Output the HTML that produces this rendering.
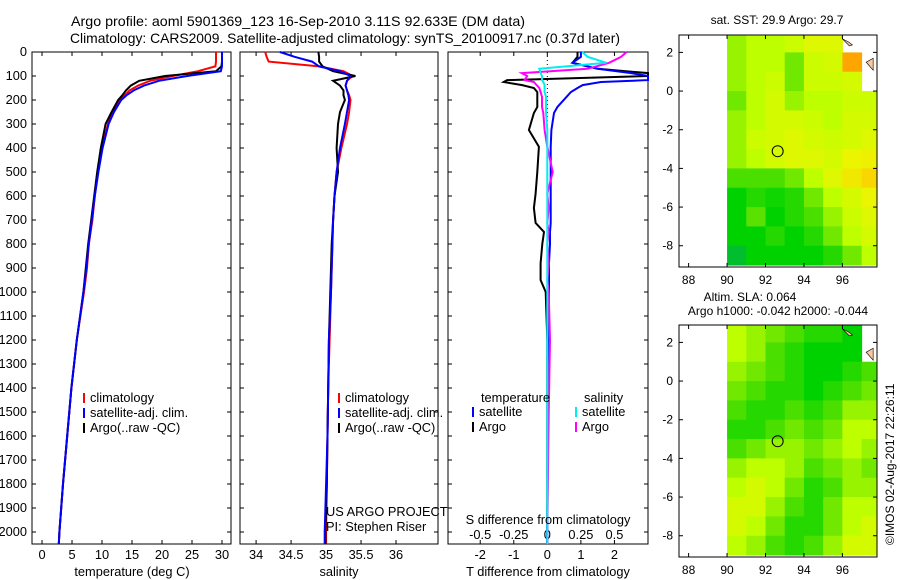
<!DOCTYPE html>
<html><head><meta charset="utf-8"><style>
html,body{margin:0;padding:0;background:#fff}
svg{display:block;font-family:"Liberation Sans",sans-serif;font-size:12.8px}
.m{font-size:12px}
</style></head><body>
<svg id="c" width="900" height="580" viewBox="0 0 900 580">
<text x="71" y="26" textLength="454" lengthAdjust="spacingAndGlyphs" style="font-size:14px">Argo profile: aoml 5901369_123 16-Sep-2010 3.11S 92.633E (DM data)</text>
<text x="70" y="43" textLength="550" lengthAdjust="spacingAndGlyphs" style="font-size:14px">Climatology: CARS2009. Satellite-adjusted climatology: synTS_20100917.nc (0.37d later)</text>
<text class="m" x="777" y="24" text-anchor="middle">sat. SST: 29.9 Argo: 29.7</text>
<text class="m" x="750" y="301" text-anchor="middle">Altim. SLA: 0.064</text>
<text class="m" x="778" y="315" text-anchor="middle">Argo h1000: -0.042 h2000: -0.044</text>
<text class="m" transform="translate(894,545) rotate(-90)">©IMOS 02-Aug-2017 22:26:11</text>
<g id="g"></g>
</svg>
<script>
// ---- data ----
const depths=[0,20,40,60,80,100,120,140,160,180,200,250,300,400,500,600,700,800,900,1000,1200,1400,1600,1800,2000,2050];
const tempClim=[29.0,29.0,29.0,28.9,26.0,21.8,18.0,16.0,14.6,13.8,13.0,11.8,11.0,10.0,9.3,8.8,8.4,7.8,7.5,7.0,5.8,4.9,4.2,3.5,2.9,2.8];
const tempSat=[30.0,30.0,30.0,30.0,29.8,24.2,19.5,17.0,15.3,14.1,13.2,12.0,11.1,10.1,9.4,8.8,8.3,7.8,7.4,6.9,5.8,4.9,4.2,3.5,2.9,2.8];
const tempArgo=[30.0,30.0,30.0,29.9,29.0,20.5,16.2,14.8,14.0,13.4,12.7,11.6,10.6,9.8,9.2,8.7,8.2,7.7,7.3,6.9,5.8,4.9,4.2,3.5,2.9,2.8];
const salClim=[34.13,34.15,34.18,34.9,35.25,35.38,35.3,35.28,35.3,35.33,35.35,35.33,35.3,35.22,35.15,35.12,35.1,35.09,35.08,35.07,35.05,35.03,35.02,35.01,35.0,35.0];
const salSat=[34.34,34.55,34.8,34.9,35.2,35.35,35.3,35.28,35.3,35.32,35.33,35.3,35.27,35.2,35.15,35.12,35.1,35.09,35.08,35.07,35.04,35.03,35.02,35.0,34.98,34.98];
const salArgo=[34.89,34.9,34.9,34.95,35.1,35.42,35.1,35.2,35.25,35.25,35.27,35.2,35.17,35.15,35.17,35.12,35.1,35.08,35.07,35.06,35.04,35.03,35.02,35.01,34.99,34.99];
const diffDepths=[0,20,45,70,88,100,117,125,138,150,167,187,229,254,325,395,500,590,650,712,750,800,880,950,1000,1200,1500,2000,2050];
const tDiffSat=[1.0,1.0,0.75,1.5,2.5,3.0,3.0,1.6,1.05,0.9,0.7,0.57,0.3,0.2,0.12,0.1,0.1,0.1,0.1,0.1,0.08,0.08,0.05,0.05,0.05,0.03,0.02,0.0,0.0];
const tDiffArgo=[0.9,0.9,0.75,1.5,3.0,3.0,-1.2,-1.3,-0.75,-0.4,-0.3,-0.3,-0.3,-0.4,-0.55,-0.25,-0.3,-0.35,-0.4,-0.35,-0.1,-0.15,-0.2,-0.2,-0.05,0.0,0.0,0.0,0.0];
const sDiffSat=[0.26,0.3,0.44,-0.06,-0.05,-0.04,-0.04,-0.03,-0.02,-0.02,-0.02,-0.01,-0.01,-0.01,0.0,0.0,0.0,0.0,0.0,0.0,0.0,0.0,0.0,0.0,0.0,0.0,0.0,0.0,0.0];
const sDiffArgo=[0.59,0.55,0.46,0.3,-0.19,-0.15,-0.17,-0.1,-0.08,-0.06,-0.05,-0.04,-0.04,-0.03,-0.02,0.0,0.04,0.0,0.01,0.0,0.01,0.0,0.01,0.0,0.01,0.02,0.01,0.0,0.0];
const depthTicks=[0,100,200,300,400,500,600,700,800,900,1000,1100,1200,1300,1400,1500,1600,1700,1800,1900,2000];
const tempTicks=[0,5,10,15,20,25,30];
const salTicks=[34,34.5,35,35.5,36];
const salTickLabels=["34","34.5","35","35.5","36"];
const tdTicks=[-2,-1,0,1,2];
const sdTicks=[-0.5,-0.25,0,0.25,0.5];
const sdTickLabels=["-0.5","-0.25","0","0.25","0.5"];
const lonTicks=[88,90,92,94,96];
const latTicks=[2,0,-2,-4,-6,-8];
const argoLon=92.633, argoLat=-3.11;
const sstGrid=[
[0.5,0.55,0.55,0.58,0.62,0.62,null,null],
[0.5,0.55,0.55,0.45,0.58,0.6,0.8,null],
[0.5,0.55,0.58,0.45,0.58,0.58,0.6,null],
[0.45,0.55,0.6,0.5,0.55,0.55,0.58,0.58],
[0.5,0.55,0.6,0.6,0.58,0.55,0.6,0.6],
[0.5,0.58,0.6,0.62,0.6,0.58,0.6,0.62],
[0.5,0.55,0.6,0.62,0.62,0.6,0.65,0.66],
[0.4,0.4,0.4,0.45,0.55,0.62,0.68,0.72],
[0.3,0.35,0.32,0.35,0.45,0.55,0.6,0.65],
[0.3,0.42,0.3,0.35,0.4,0.5,0.58,0.62],
[0.3,0.3,0.35,0.3,0.35,0.45,0.55,0.6],
[0.25,0.3,0.3,0.3,0.3,0.35,0.45,0.55]];
const slaGrid=[
[0.55,0.5,0.45,0.4,0.35,0.35,0.3,null],
[0.55,0.5,0.4,0.35,0.3,0.3,0.3,null],
[0.5,0.45,0.4,0.35,0.3,0.3,0.35,0.4],
[0.45,0.4,0.35,0.35,0.3,0.35,0.4,0.45],
[0.4,0.35,0.35,0.4,0.35,0.4,0.5,0.5],
[0.35,0.35,0.4,0.45,0.4,0.45,0.55,0.55],
[0.4,0.45,0.5,0.5,0.45,0.5,0.55,0.5],
[0.5,0.55,0.55,0.5,0.4,0.45,0.5,0.45],
[0.55,0.6,0.55,0.45,0.35,0.4,0.5,0.5],
[0.6,0.6,0.5,0.4,0.35,0.45,0.55,0.55],
[0.6,0.55,0.45,0.35,0.35,0.45,0.55,0.6],
[0.55,0.5,0.4,0.35,0.4,0.5,0.6,0.6]];

// ---- drawing ----
const NS="http://www.w3.org/2000/svg";
const G=document.getElementById('g');
function mk(tag,attrs,parent,txt){const e=document.createElementNS(NS,tag);for(const k in attrs)e.setAttribute(k,attrs[k]);if(txt!==undefined)e.textContent=txt;(parent||G).appendChild(e);return e;}
const Y0=52, PXM=0.24;
const yD=d=>Y0+d*PXM;
const P1={x0:32,x1:231,v0:-1.67,v1:31.5};
const P2={x0:240,x1:438,v0:33.77,v1:36.6};
const P3={x0:448,x1:648,v0:-2.96,v1:3.0};
const sx=(p,v)=>p.x0+(v-p.v0)/(p.v1-p.v0)*(p.x1-p.x0);
const YB=544;

function frame(p,name){
  const r=mk('rect',{x:p.x0,y:Y0,width:p.x1-p.x0,height:YB-Y0,fill:'none',stroke:'#000','stroke-width':1});
  
  
}
function line(p,xs,ys,color,name,w){
  let d='';
  for(let i=0;i<xs.length;i++){let x=Math.max(p.x0,Math.min(p.x1,sx(p,xs[i])));d+=(i?'L':'M')+x.toFixed(1)+','+yD(ys[i]).toFixed(1);}
  const e=mk('path',{d:d,fill:'none',stroke:color,'stroke-width':w||2});
  
  
}
function xticks(p,vals,labels,name){
  vals.forEach((v,i)=>{const x=sx(p,v);
    mk('line',{x1:x,x2:x,y1:YB,y2:YB-4,stroke:'#000'});
    mk('line',{x1:x,x2:x,y1:Y0,y2:Y0+4,stroke:'#000'});
    const t=mk('text',{x:x,y:YB+15,'text-anchor':'middle'},G,labels[i]);
    
    });
}
depthTicks.forEach(d=>{
  const t=mk('text',{x:27,y:yD(d)+4,'text-anchor':'end'},G,String(d));
  
  
  [P1,P2,P3].forEach(p=>{mk('line',{x1:p.x0,x2:p.x0+4,y1:yD(d),y2:yD(d),stroke:'#000'});mk('line',{x1:p.x1,x2:p.x1-4,y1:yD(d),y2:yD(d),stroke:'#000'});});
});
frame(P1,'temperature-panel');
xticks(P1,tempTicks,tempTicks.map(String),'temperature-tick-label');
line(P1,tempClim,depths,'#f00','temperature-climatology-line');
line(P1,tempArgo,depths,'#000','temperature-argo-line');
line(P1,tempSat,depths,'#00f','temperature-satellite-line');
let t=mk('text',{x:132,y:576,'text-anchor':'middle'},G,'temperature (deg C)');
frame(P2,'salinity-panel');
xticks(P2,salTicks,salTickLabels,'salinity-tick-label');
line(P2,salClim,depths,'#f00','salinity-climatology-line');
line(P2,salArgo,depths,'#000','salinity-argo-line');
line(P2,salSat,depths,'#00f','salinity-satellite-line');
t=mk('text',{x:339,y:576,'text-anchor':'middle'},G,'salinity');
frame(P3,'difference-panel');
xticks(P3,tdTicks,tdTicks.map(String),'t-difference-tick-label');
sdTicks.forEach((v,i)=>{const x=sx(P3,v*4);const e=mk('text',{x:x,y:539,'text-anchor':'middle'},G,sdTickLabels[i]);});
mk('line',{x1:sx(P3,0),x2:sx(P3,0),y1:Y0,y2:YB,stroke:'#000','stroke-dasharray':'1,3'});
line(P3,tDiffArgo,diffDepths,'#000','t-diff-argo-line');
line(P3,tDiffSat,diffDepths,'#00f','t-diff-satellite-line');
line(P3,sDiffArgo.map(v=>v*4),diffDepths,'#f0f','s-diff-argo-line');
line(P3,sDiffSat.map(v=>v*4),diffDepths,'#0ee','s-diff-satellite-line');
t=mk('text',{x:548,y:524,'text-anchor':'middle'},G,'S difference from climatology');
t=mk('text',{x:548,y:576,'text-anchor':'middle'},G,'T difference from climatology');
function legend(x,y,items,name){items.forEach((it,i)=>{const yy=y+i*15;
  mk('line',{x1:x,x2:x,y1:yy-9,y2:yy+1,stroke:it[1],'stroke-width':2});
  const e=mk('text',{x:x+6,y:yy},G,it[0]);});}
const L=[['climatology','#f00'],['satellite-adj. clim.','#00f'],['Argo(..raw -QC)','#000']];
legend(84,402,L,'temperature-legend-entry');
legend(339,402,L,'salinity-legend-entry');
t=mk('text',{x:481,y:402},G,'temperature');
t=mk('text',{x:584,y:402},G,'salinity');
legend(473,416,[['satellite','#00f'],['Argo','#000']],'t-diff-legend-entry');
legend(576,416,[['satellite','#0ee'],['Argo','#f0f']],'s-diff-legend-entry');
t=mk('text',{x:326,y:516},G,'US ARGO PROJECT');
t=mk('text',{x:326,y:531},G,'PI: Stephen Riser');
// maps
const stops=[[0.2,[0,170,90]],[0.3,[0,210,0]],[0.42,[90,225,0]],[0.55,[190,255,0]],[0.65,[235,245,0]],[0.75,[255,200,0]],[0.85,[255,130,0]]];
function col(v){if(v<=stops[0][0])return 'rgb('+stops[0][1]+')';for(let i=1;i<stops.length;i++){if(v<=stops[i][0]){const a=stops[i-1],b=stops[i],f=(v-a[0])/(b[0]-a[0]);return 'rgb('+a[1].map((c,k)=>Math.round(c+(b[1][k]-c)*f)).join(',')+')';}}return 'rgb('+stops[stops.length-1][1]+')';}
function map(M,grid,name){
  const lx=v=>M.x0+(v-87.5)*(M.x1-M.x0)/(97.8-87.5);
  const ly=v=>M.y0+(2.9-v)*(M.y1-M.y0)/(2.9+9.1);
  grid.forEach((row,r)=>row.forEach((v,c)=>{if(v===null)return;
    const lonA=90+c, lonB=Math.min(97.8,91+c), latA=Math.min(2.9,3-r), latB=2-r<-9.1?-9.1:2-r;
    const e=mk('rect',{x:lx(lonA),y:ly(latA),width:lx(lonB)-lx(lonA)+0.5,height:ly(latB)-ly(latA)+0.5,fill:col(v)});
    
    }));
  const land=mk('path',{d:`M${lx(97.6)},${ly(1.7)} l-7,4 l7,8 z M${lx(96.0)},${ly(2.7)} l6,3 l4,3 l-3,1 z`,fill:'#f8c8a0',stroke:'#000','stroke-width':0.6});
  
  const f=mk('rect',{x:M.x0,y:M.y0,width:M.x1-M.x0,height:M.y1-M.y0,fill:'none',stroke:'#000'});
  
  lonTicks.forEach(v=>{const x=lx(v);mk('line',{x1:x,x2:x,y1:M.y1,y2:M.y1-4,stroke:'#000'});mk('line',{x1:x,x2:x,y1:M.y0,y2:M.y0+4,stroke:'#000'});
    const e=mk('text',{class:'m',x:x,y:M.y1+17,'text-anchor':'middle'},G,String(v));});
  latTicks.forEach(v=>{const y=ly(v);mk('line',{x1:M.x0,x2:M.x0+4,y1:y,y2:y,stroke:'#000'});mk('line',{x1:M.x1,x2:M.x1-4,y1:y,y2:y,stroke:'#000'});
    const e=mk('text',{class:'m',x:M.x0-6,y:y+4,'text-anchor':'end'},G,String(v));});
  const c=mk('circle',{cx:lx(argoLon),cy:ly(argoLat),r:5.5,fill:'none',stroke:'#000','stroke-width':1});
  
}
map({x0:679,x1:877,y0:35,y1:267},sstGrid,'sst-map');
map({x0:679,x1:877,y0:325,y1:557},slaGrid,'sla-map');
</script>
</body></html>
